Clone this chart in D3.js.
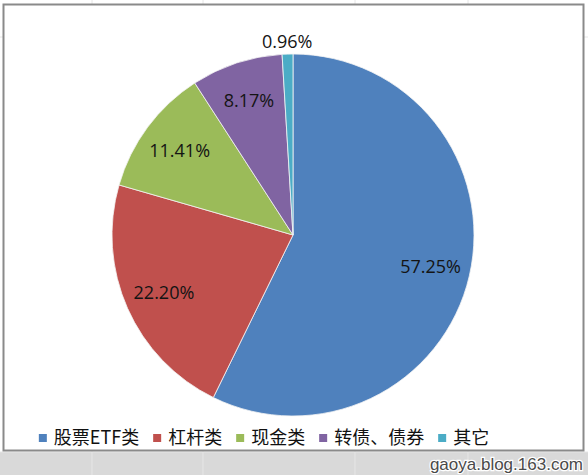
<!DOCTYPE html>
<html>
<head>
<meta charset="utf-8">
<script src="https://cdn.jsdelivr.net/npm/d3@7"></script>
<style>
  html, body { margin: 0; padding: 0; background: #fff; }
  svg { display: block; }
</style>
</head>
<body>
<script>
const width = 588;
const height = 475;

// data
const categories = ['股票ETF类', '杠杆类', '现金类', '转债、债券', '其它'];
const values = [57.25, 22.20, 11.41, 8.17, 0.96];
const colorList = ['#4F81BD', '#C0504D', '#9BBB59', '#8064A2', '#4BACC6'];

const color = d3.scaleOrdinal().domain(categories).range(colorList);

const svg = d3
  .select('body')
  .append('svg')
  .attr('width', width)
  .attr('height', height);

// spreadsheet behind the chart
const sheet = svg.append('g');
sheet.append('rect')
  .attr('x', 0).attr('y', 452)
  .attr('width', width).attr('height', height - 452)
  .attr('fill', '#d9d9d9');
[92, 203, 355, 468].forEach(x => {
  sheet.append('line')
    .attr('x1', x).attr('x2', x).attr('y1', 0).attr('y2', height)
    .attr('stroke', '#e6e6e6');
});
[37, 452].forEach(y => {
  sheet.append('line')
    .attr('x1', 0).attr('x2', width).attr('y1', y).attr('y2', y)
    .attr('stroke', '#e6e6e6');
});

// chart area
svg.append('rect')
  .attr('x', 3.5).attr('y', 4.5)
  .attr('width', 580).attr('height', 446)
  .attr('fill', '#fff')
  .attr('stroke', '#8a8a8a')
  .attr('stroke-width', 2);

const cx = 293;
const cy = 235;
const radius = 181;

const pie = d3.pie().sort(null).value(d => d.value);
const data = categories.map((c, i) => ({ name: c, value: values[i] }));
const arcs = pie(data);

const arc = d3.arc().innerRadius(0).outerRadius(radius);
const labelArc = d3.arc().innerRadius(radius * 0.78).outerRadius(radius * 0.78);
const outerArc = d3.arc().innerRadius(radius * 1.07).outerRadius(radius * 1.07);

const g = svg.append('g').attr('transform', `translate(${cx},${cy})`);

g.selectAll('path')
  .data(arcs)
  .enter()
  .append('path')
  .attr('d', arc)
  .attr('fill', d => color(d.data.name))
  .attr('stroke', '#f4f4f4')
  .attr('stroke-width', 0.8);

g.selectAll('text.label')
  .data(arcs)
  .enter()
  .append('text')
  .attr('class', 'label')
  .attr('transform', d => {
    const p = d.data.value < 3 ? outerArc.centroid(d) : labelArc.centroid(d);
    return `translate(${p[0]},${p[1]})`;
  })
  .attr('text-anchor', 'middle')
  .attr('dy', '0.35em')
  .style('font-family', '"Open Sans", "Liberation Sans", sans-serif')
  .style('font-size', '18px')
  .attr('fill', '#141414')
  .text(d => `${d.data.value.toFixed(2)}%`);

// legend, laid out in a row and centred
const legend = svg.append('g');
const items = legend.selectAll('g')
  .data(categories)
  .enter()
  .append('g');

items.append('rect')
  .attr('width', 8).attr('height', 8)
  .attr('y', -4)
  .attr('fill', d => color(d));

items.append('text')
  .attr('x', 15)
  .attr('dy', '0.36em')
  .style('font-family', '"Noto Sans CJK SC", sans-serif')
  .style('font-size', '18px')
  .attr('fill', '#111')
  .text(d => d);

let xPos = 0;
items.each(function() {
  const w = d3.select(this).select('text').node().getComputedTextLength();
  d3.select(this).attr('transform', `translate(${xPos},0)`);
  xPos += 15 + w + 14;
});
const legendWidth = xPos - 14;
legend.attr('transform', `translate(${264 - legendWidth / 2},438)`);

// watermark
svg.append('text')
  .attr('x', 583).attr('y', 470)
  .attr('text-anchor', 'end')
  .style('font-family', '"Liberation Sans", Arial, sans-serif')
  .style('font-size', '17px')
  .attr('fill', '#4a4a4a')
  .attr('stroke', '#fff')
  .attr('stroke-width', 2.5)
  .attr('paint-order', 'stroke')
  .text('gaoya.blog.163.com');
</script>
</body>
</html>
